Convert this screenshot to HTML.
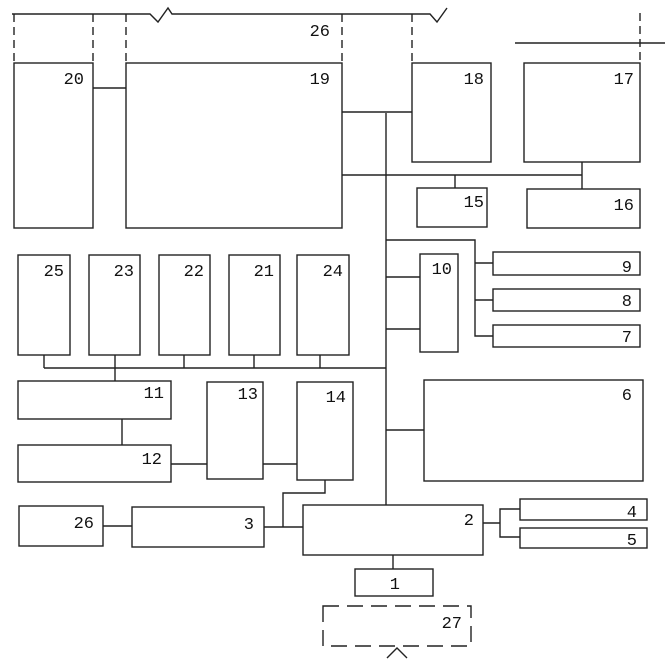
<!DOCTYPE html>
<html><head><meta charset="utf-8"><style>
html,body{margin:0;padding:0;background:#fff;}
svg{display:block}
text{font-family:"Liberation Mono",monospace;font-size:17px;fill:#111;text-anchor:end}
</style></head><body>
<svg width="672" height="668" viewBox="0 0 672 668" xmlns="http://www.w3.org/2000/svg">
<g fill="none" stroke="#222" stroke-width="1.4">
<!-- top line with zigzags -->
<polyline points="12,14 150,14 158,22 168,8 172,14 430,14 437,22 447,8"/>
<g stroke-dasharray="8,5">
<line x1="14" y1="14" x2="14" y2="63"/>
<line x1="93" y1="14" x2="93" y2="63"/>
<line x1="126" y1="14" x2="126" y2="63"/>
<line x1="342" y1="14" x2="342" y2="63"/>
<line x1="412" y1="14" x2="412" y2="63"/>
<line x1="640" y1="13" x2="640" y2="63"/>
</g>
<line x1="515" y1="43" x2="665" y2="43"/>
<rect x="14" y="63" width="79" height="165"/>
<line x1="93" y1="88" x2="126" y2="88"/>
<rect x="126" y="63" width="216" height="165"/>
<rect x="412" y="63" width="79" height="99"/>
<rect x="524" y="63" width="116" height="99"/>
<polyline points="342,112 412,112"/>
<line x1="386" y1="113" x2="386" y2="505"/>
<line x1="342" y1="175" x2="582" y2="175"/>
<line x1="455" y1="175" x2="455" y2="188"/>
<line x1="582" y1="162" x2="582" y2="189"/>
<rect x="417" y="188" width="70" height="39"/>
<rect x="527" y="189" width="113" height="39"/>
<!-- row of tall boxes -->
<rect x="18" y="255" width="52" height="100"/>
<rect x="89" y="255" width="51" height="100"/>
<rect x="159" y="255" width="51" height="100"/>
<rect x="229" y="255" width="51" height="100"/>
<rect x="297" y="255" width="52" height="100"/>
<line x1="44" y1="368" x2="386" y2="368"/>
<line x1="44" y1="355" x2="44" y2="368"/>
<line x1="115" y1="355" x2="115" y2="381"/>
<line x1="184" y1="355" x2="184" y2="368"/>
<line x1="254" y1="355" x2="254" y2="368"/>
<line x1="320" y1="355" x2="320" y2="368"/>
<!-- 10, 9,8,7 -->
<rect x="420" y="254" width="38" height="98"/>
<line x1="386" y1="277" x2="420" y2="277"/>
<line x1="386" y1="329" x2="420" y2="329"/>
<polyline points="386,240 475,240 475,336 493,336"/>
<line x1="475" y1="263" x2="493" y2="263"/>
<line x1="475" y1="300" x2="493" y2="300"/>
<rect x="493" y="252" width="147" height="23"/>
<rect x="493" y="289" width="147" height="22"/>
<rect x="493" y="325" width="147" height="22"/>
<!-- 11,12,13,14 -->
<rect x="18" y="381" width="153" height="38"/>
<line x1="122" y1="419" x2="122" y2="445"/>
<rect x="18" y="445" width="153" height="37"/>
<rect x="207" y="382" width="56" height="97"/>
<rect x="297" y="382" width="56" height="98"/>
<line x1="171" y1="464" x2="207" y2="464"/>
<line x1="263" y1="464" x2="297" y2="464"/>
<polyline points="325,480 325,493 283,493 283,527"/>
<!-- 6 -->
<rect x="424" y="380" width="219" height="101"/>
<line x1="386" y1="430" x2="424" y2="430"/>
<!-- bottom row -->
<rect x="19" y="506" width="84" height="40"/>
<rect x="132" y="507" width="132" height="40"/>
<line x1="103" y1="526" x2="132" y2="526"/>
<line x1="264" y1="527" x2="303" y2="527"/>
<rect x="303" y="505" width="180" height="50"/>
<line x1="483" y1="523" x2="500" y2="523"/>
<polyline points="520,509 500,509 500,537 520,537"/>
<rect x="520" y="499" width="127" height="21"/>
<rect x="520" y="528" width="127" height="20"/>
<line x1="393" y1="555" x2="393" y2="569"/>
<rect x="355" y="569" width="78" height="27"/>
<rect x="323" y="606" width="148" height="40" stroke-dasharray="16,8"/>
<polyline points="387,658 397,648 407,658"/>
</g>
<text x="330" y="36">26</text>
<text x="84" y="84">20</text>
<text x="330" y="84">19</text>
<text x="484" y="84">18</text>
<text x="634" y="84">17</text>
<text x="484" y="207">15</text>
<text x="634" y="210">16</text>
<text x="64" y="276">25</text>
<text x="134" y="276">23</text>
<text x="204" y="276">22</text>
<text x="274" y="276">21</text>
<text x="343" y="276">24</text>
<text x="452" y="274">10</text>
<text x="632" y="272">9</text>
<text x="632" y="306">8</text>
<text x="632" y="342">7</text>
<text x="164" y="398">11</text>
<text x="258" y="399">13</text>
<text x="346" y="402">14</text>
<text x="632" y="400">6</text>
<text x="162" y="464">12</text>
<text x="94" y="528">26</text>
<text x="254" y="529">3</text>
<text x="474" y="525">2</text>
<text x="637" y="517">4</text>
<text x="637" y="545">5</text>
<text x="400" y="589">1</text>
<text x="462" y="628">27</text>
</svg>
</body></html>
